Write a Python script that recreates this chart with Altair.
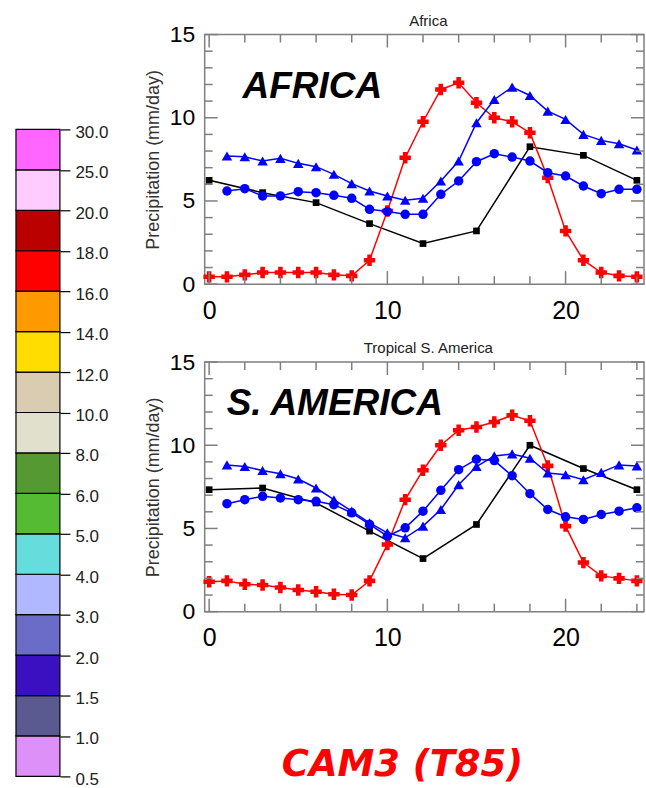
import altair as alt
import pandas as pd

# ---------------- data ----------------
hours = list(range(25))
hours_obs = [0, 3, 6, 9, 12, 15, 18, 21, 24]
hours_model = list(range(1, 25))

africa_obs = [6.24, 5.5, 4.9, 3.64, 2.44, 3.2, 8.26, 7.74, 6.24]
africa_red = [0.44, 0.44, 0.56, 0.7, 0.7, 0.7, 0.7, 0.56, 0.5, 1.44, 4.4, 7.6, 9.76,
              11.7, 12.1, 10.9, 10.0, 9.76, 9.1, 6.4, 3.2, 1.44, 0.7, 0.5, 0.44]
africa_tri = [7.7, 7.66, 7.4, 7.56, 7.26, 7.06, 6.6, 6.04, 5.6, 5.3, 5.04, 5.16,
              6.2, 7.4, 9.7, 11.1, 11.84, 11.34, 10.4, 9.9, 9.0, 8.64, 8.44, 8.06]
africa_circ = [5.6, 5.74, 5.3, 5.3, 5.56, 5.5, 5.34, 5.16, 4.5, 4.36, 4.2, 4.2,
               5.4, 6.2, 7.36, 7.84, 7.64, 7.4, 6.7, 6.5, 5.9, 5.44, 5.7, 5.7]

samerica_obs = [7.33, 7.43, 6.53, 4.84, 3.19, 5.24, 10.0, 8.6, 7.33]
samerica_red = [1.8, 1.85, 1.65, 1.6, 1.45, 1.3, 1.2, 1.05, 1.0, 1.85, 4.04, 6.73, 8.5,
                10.0, 10.9, 11.1, 11.4, 11.8, 11.47, 8.76, 5.14, 2.95, 2.15, 2.0, 1.85]
samerica_tri = [8.82, 8.72, 8.48, 8.29, 7.97, 7.43, 6.73, 6.04, 5.34, 4.74, 4.44, 5.14,
                6.14, 7.63, 8.72, 9.36, 9.48, 9.22, 8.33, 8.23, 7.93, 8.37, 8.82, 8.76]
samerica_circ = [6.49, 6.73, 6.93, 6.83, 6.73, 6.63, 6.43, 5.94, 5.24, 4.54, 5.04, 6.04,
                 7.29, 8.53, 9.16, 9.08, 8.17, 7.09, 6.14, 5.7, 5.54, 5.84, 6.04, 6.24]

cb_labels = ["0.5", "1.0", "1.5", "2.0", "3.0", "4.0", "5.0", "6.0", "8.0", "10.0",
             "12.0", "14.0", "16.0", "18.0", "20.0", "25.0", "30.0"]
cb_colors = ["#DD90F8", "#5A5A90", "#3A10C0", "#6B6BC8", "#B0B8FF", "#66DDDD",
             "#55BB33", "#559933", "#E0E0CC", "#D9CCB0", "#FFDD00", "#FF9900",
             "#FF0000", "#BB0000", "#FFCCFF", "#FF66FF"]

x_major = [0, 10, 20]
x_minor = [2, 4, 6, 8, 12, 14, 16, 18, 22, 24]
y_major = [0, 5, 10, 15]
y_minor = [1, 2, 3, 4, 6, 7, 8, 9, 11, 12, 13, 14]

# ---------------- layout constants ----------------
FONT = "Liberation Sans"
W, H = 440, 250
FRAME = "#7f7f7f"
MINOR, MAJOR = 8, 13


def panel(title, label, lx, ly, obs, red, tri, circ):
    xs = alt.Scale(domain=[-0.25, 24.4], nice=False, zero=False)
    ys = alt.Scale(domain=[0, 15], nice=False, zero=False)
    xax = alt.Axis(values=x_major, ticks=False, domain=False, grid=False,
                   labelFont=FONT, labelFontSize=25, labelColor="black",
                   labelPadding=14, title=None)
    yax = alt.Axis(values=y_major, ticks=False, domain=False, grid=False,
                   labelFont=FONT, labelFontSize=23, labelColor="black",
                   labelPadding=10, title="Precipitation (mm/day)",
                   titleFont=FONT, titleFontSize=18, titleFontWeight="normal",
                   titleColor="#333", titlePadding=7)
    X = alt.X("hour:Q", scale=xs, axis=xax)
    Y = alt.Y("value:Q", scale=ys, axis=yax)

    def series(h, v, color, shape, size):
        df = pd.DataFrame({"hour": h, "value": v})
        return alt.Chart(df).mark_line(
            color=color, strokeWidth=1.5,
            point=alt.OverlayMarkDef(shape=shape, filled=True, size=size,
                                     color=color, opacity=1)
        ).encode(x=X, y=Y)

    layers = [
        series(hours_obs, obs, "black", "square", 45),
        series(hours, red, "#FF0000", "cross", 130),
        series(hours_model, tri, "#0000FF", "triangle-up", 110),
        series(hours_model, circ, "#0000FF", "circle", 90),
    ]

    def xticks(vals, y0, y1):
        return alt.Chart(pd.DataFrame({"hour": vals})).mark_rule(
            color=FRAME, strokeWidth=1.5).encode(
            x=X, y=alt.value(y0), y2=alt.value(y1))

    def yticks(vals, x0, x1):
        return alt.Chart(pd.DataFrame({"value": vals})).mark_rule(
            color=FRAME, strokeWidth=1.5).encode(
            y=Y, x=alt.value(x0), x2=alt.value(x1))

    ticks = [
        xticks(x_minor, 0, MINOR), xticks(x_major, 0, MAJOR),
        xticks(x_minor, H, H - MINOR), xticks(x_major, H, H - MAJOR),
        yticks(y_minor, 0, MINOR), yticks(y_major, 0, MAJOR),
        yticks(y_minor, W, W - MINOR), yticks(y_major, W, W - MAJOR),
    ]

    txt = alt.Chart(pd.DataFrame({"t": [label]})).mark_text(
        align="left", baseline="alphabetic", font=FONT, fontSize=37,
        fontWeight="bold", fontStyle="italic", color="black"
    ).encode(text="t:N", x=alt.value(lx), y=alt.value(ly))

    ttl = alt.Chart(pd.DataFrame({"t": [title]})).mark_text(
        align="center", baseline="alphabetic", font=FONT, fontSize=15,
        color="#222"
    ).encode(text="t:N", x=alt.value(W / 2 + 4), y=alt.value(-9))

    return alt.layer(*layers, *ticks, txt, ttl).properties(
        width=W, height=H,
        view=alt.ViewBackground(stroke=FRAME, strokeWidth=1.5),
    )


top = panel("Africa", "AFRICA", 38, 64, africa_obs, africa_red, africa_tri, africa_circ)
bottom = panel("Tropical S. America", "S. AMERICA", 22, 53,
               samerica_obs, samerica_red, samerica_tri, samerica_circ)

# ---------------- colour bar ----------------
CB_H = 743
CB_TOP = 18.346
cb_df = pd.DataFrame({"lo": list(range(16)), "hi": list(range(1, 17)), "color": cb_colors})
label_expr = "[" + ",".join("'%s'" % s for s in cb_labels) + "][datum.value]"
colorbar = alt.Chart(cb_df).mark_rect(stroke="black", strokeWidth=1.2).encode(
    y=alt.Y("lo:Q", scale=alt.Scale(domain=[0, CB_TOP], nice=False, zero=False),
            axis=alt.Axis(orient="right", values=list(range(17)), labelExpr=label_expr,
                          tickSize=10, tickColor="black", tickWidth=1.2,
                          domain=False, grid=False, title=None,
                          labelFont=FONT, labelFontSize=17, labelColor="#222",
                          labelPadding=5, labelOffset=3)),
    y2="hi:Q",
    color=alt.Color("color:N", scale=None),
).properties(width=44, height=CB_H, view=alt.ViewBackground(strokeOpacity=0))

right = alt.vconcat(top, bottom, spacing=16).properties(
    title=alt.Title("CAM3 (T85)", orient="bottom", anchor="middle", font="DejaVu Sans",
                    fontSize=37, fontWeight="bold", fontStyle="italic", color="#FF0000",
                    baseline="top", offset=96, dx=8)
)

chart = alt.hconcat(colorbar, right, spacing=34).properties(
    padding={"left": 15, "top": 12, "right": 0, "bottom": 0}
)

chart.save("out.html", embed_options={"renderer": "svg", "actions": False})
